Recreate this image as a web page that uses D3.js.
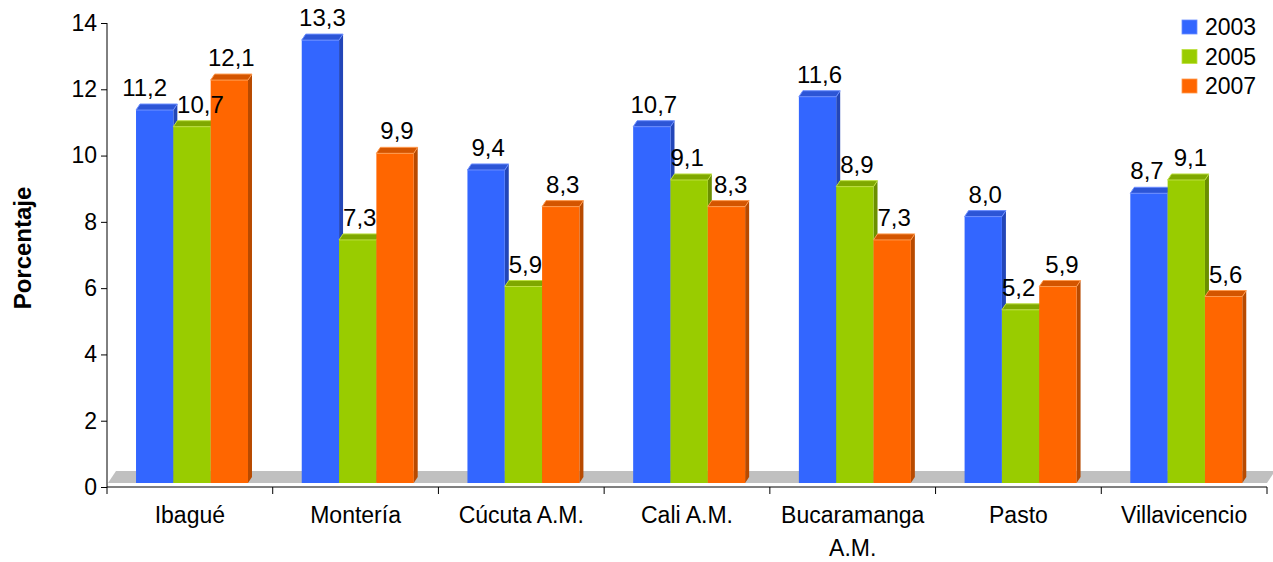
<!DOCTYPE html>
<html>
<head>
<meta charset="utf-8">
<script src="https://cdn.jsdelivr.net/npm/d3@7"></script>
<style>
  html, body { margin: 0; padding: 0; background: #fff; }
  svg { display: block; font-family: "Liberation Sans", Arial, sans-serif; }
</style>
</head>
<body>
<svg id="chart" width="1273" height="562"></svg>
<script>
const categories = ["Ibagué", "Montería", "Cúcuta A.M.", "Cali A.M.", "Bucaramanga A.M.", "Pasto", "Villavicencio"];
const seriesNames = ["2003", "2005", "2007"];
const values2003 = [11.2, 13.3, 9.4, 10.7, 11.6, 8.0, 8.7];
const values2005 = [10.7, 7.3, 5.9, 9.1, 8.9, 5.2, 9.1];
const values2007 = [12.1, 9.9, 8.3, 8.3, 7.3, 5.9, 5.6];
const yTicks = [0, 2, 4, 6, 8, 10, 12, 14];

const seriesValues = [values2003, values2005, values2007];
const palette = {
  "2003": { front: "#3366FF", side: "#2346B8", top: "#2C55D6", edge: "#6A8DFF" },
  "2005": { front: "#99CC00", side: "#6B8F00", top: "#7FA800", edge: "#BEE040" },
  "2007": { front: "#FF6600", side: "#B84A00", top: "#D45500", edge: "#FF9A4D" }
};

const svg = d3.select("#chart");
const left = 107, right = 1267, axisY = 487, topY = 23;
const depthX = 4, depthY = 6;
const floorDX = 8, floorDY = 12;

const y = d3.scaleLinear().domain([0, 14]).range([axisY, topY]);
const yFront = d3.scaleLinear().domain([0, 14]).range([axisY - 4, axisY - 4 - 14 * 33.3]);

const x0 = d3.scaleBand().domain(categories).range([left, right]).paddingInner(0).paddingOuter(0);
const x1 = d3.scaleBand().domain(seriesNames).range([0, x0.bandwidth()]).paddingInner(0).paddingOuter(0.72).align(0.54);

// floor
const fb = yFront(0);
svg.append("path")
  .attr("d", `M${left + 1},${fb} L${right},${fb} L${right + floorDX},${fb - floorDY} L${left + 1 + floorDX},${fb - floorDY} Z`)
  .attr("fill", "#C0C0C0");

// y axis
const yAxis = d3.axisLeft(y).tickValues(yTicks).tickSize(6).tickPadding(4).tickFormat(d3.format("d"));
const gy = svg.append("g").attr("transform", `translate(${left},0)`).call(yAxis);
gy.select(".domain").attr("stroke", "#000").attr("d", `M0,${topY}V${axisY}`);
gy.selectAll(".tick line").attr("stroke", "#000");
gy.selectAll(".tick text").attr("font-size", 23).attr("fill", "#000").attr("font-family", "Liberation Sans, Arial, sans-serif");

// x axis
const gx = svg.append("g").attr("transform", `translate(0,${axisY})`);
gx.append("line").attr("x1", left).attr("x2", right).attr("y1", 0).attr("y2", 0).attr("stroke", "#000");
const bounds = categories.map(c => x0(c)).concat([right]);
gx.selectAll("line.tk").data(bounds).join("line").attr("class", "tk")
  .attr("x1", d => d).attr("x2", d => d).attr("y1", 0).attr("y2", 7).attr("stroke", "#000");

const catLabels = svg.append("g").selectAll("text").data(categories).join("text")
  .attr("x", d => x0(d) + x0.bandwidth() / 2)
  .attr("y", 523)
  .attr("text-anchor", "middle")
  .attr("font-size", 23)
  .attr("fill", "#000");
catLabels.each(function(d) {
  const t = d3.select(this);
  const words = d.split(" ");
  const maxW = x0.bandwidth() - 8;
  let line = [];
  let tspan = t.append("tspan").attr("x", t.attr("x")).attr("dy", 0);
  words.forEach(w => {
    line.push(w);
    tspan.text(line.join(" "));
    if (tspan.node().getComputedTextLength() > maxW && line.length > 1) {
      line.pop();
      tspan.text(line.join(" "));
      line = [w];
      tspan = t.append("tspan").attr("x", t.attr("x")).attr("dy", 33).text(w);
    }
  });
});

// bars
const fmt = v => d3.format(".1f")(v).replace(".", ",");
const bars = [];
categories.forEach((c, i) => {
  seriesNames.forEach((s, j) => {
    bars.push({ cat: c, series: s, value: seriesValues[j][i] });
  });
});

const w = x1.bandwidth();
const gBars = svg.append("g");
bars.forEach(b => {
  const col = palette[b.series];
  const bx = x0(b.cat) + x1(b.series);
  const top = yFront(b.value), bot = yFront(0);
  const g = gBars.append("g");
  g.append("path")
    .attr("d", `M${bx + w},${top} L${bx + w + depthX},${top - depthY} L${bx + w + depthX},${bot - depthY} L${bx + w},${bot} Z`)
    .attr("fill", col.side);
  g.append("rect").attr("x", bx).attr("y", top).attr("width", w).attr("height", bot - top)
    .attr("fill", col.front);
  g.append("path")
    .attr("d", `M${bx},${top} L${bx + depthX},${top - depthY} L${bx + w + depthX},${top - depthY} L${bx + w},${top} Z`)
    .attr("fill", col.top).attr("stroke", col.edge).attr("stroke-width", 1);
});

// value labels
const labels = svg.append("g").selectAll("text").data(bars).join("text")
  .attr("x", d => x0(d.cat) + x1(d.series) + w / 2 + depthX / 2)
  .attr("y", d => yFront(d.value) - depthY - 8)
  .attr("text-anchor", "middle")
  .attr("font-size", 24)
  .attr("fill", "#000")
  .text(d => fmt(d.value));

// simple collision avoidance between neighbouring labels in a group
const nodes = labels.nodes();
for (let i = 0; i + 1 < nodes.length; i++) {
  if (bars[i].cat !== bars[i + 1].cat) continue;
  const a = nodes[i].getBBox(), b = nodes[i + 1].getBBox();
  const vOverlap = Math.min(a.y + a.height, b.y + b.height) - Math.max(a.y, b.y);
  const hOverlap = (a.x + a.width + 4) - b.x;
  if (vOverlap > -4 && hOverlap > 0) {
    const s = hOverlap + 6;
    d3.select(nodes[i]).attr("x", +d3.select(nodes[i]).attr("x") - s * 0.65);
    d3.select(nodes[i + 1]).attr("x", +d3.select(nodes[i + 1]).attr("x") + s * 0.35);
  }
}

// y label
svg.append("text")
  .attr("transform", `translate(31,248) rotate(-90)`)
  .attr("text-anchor", "middle")
  .attr("font-size", 24)
  .attr("font-weight", "bold")
  .attr("fill", "#000")
  .text("Porcentaje");

// legend
const lg = svg.append("g").selectAll("g").data(seriesNames).join("g")
  .attr("transform", (d, i) => `translate(1182,${27 + i * 29.5})`);
lg.append("rect").attr("x", 0).attr("y", -7).attr("width", 15).attr("height", 14)
  .attr("fill", d => palette[d].front).attr("stroke", d => palette[d].edge).attr("stroke-width", 0.8);
lg.append("text").attr("x", 23).attr("y", 8).attr("font-size", 23).attr("fill", "#000").text(d => d);
</script>
</body>
</html>
